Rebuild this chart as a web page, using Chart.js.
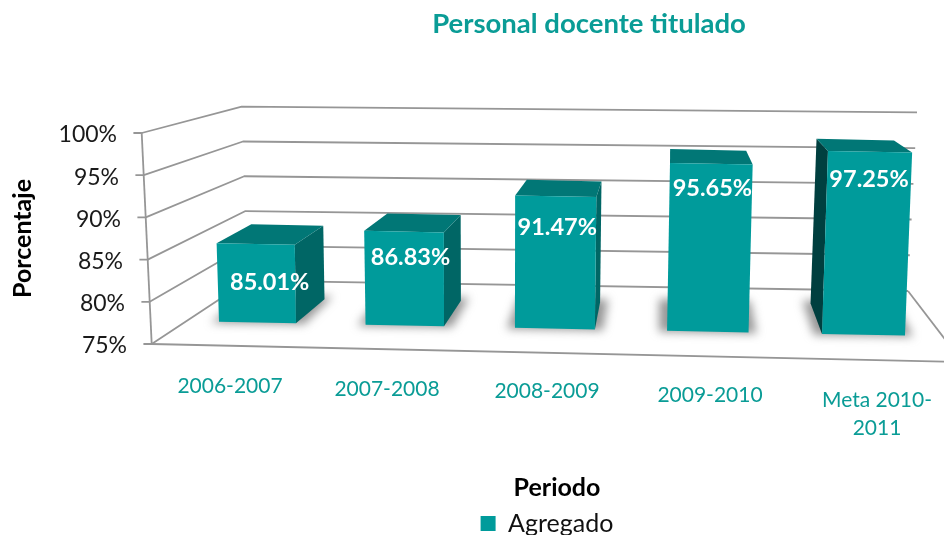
<!DOCTYPE html>
<html>
<head>
<meta charset="utf-8">
<style>html,body{margin:0;padding:0;background:#fff}canvas{display:block}</style>
<script src="https://cdn.jsdelivr.net/npm/chart.js@4/dist/chart.umd.js"></script>
</head>
<body>
<canvas id="c" width="944" height="535"></canvas>
<script>
const categories = ['2006-2007', '2007-2008', '2008-2009', '2009-2010', ['Meta 2010-', '2011']];
const seriesName = 'Agregado';
const seriesValues = [85.01, 86.83, 91.47, 95.65, 97.25];
const chartTitle = 'Personal docente titulado';
const yTitle = 'Porcentaje';
const xTitle = 'Periodo';
const teal = '#009B9B';

// Perspective of the 3D box: turns library geometry into the projected picture.
const FONT = 'Lato';
function poly(ctx, pts, fill) {
  ctx.beginPath();
  pts.forEach((p, i) => i ? ctx.lineTo(p[0], p[1]) : ctx.moveTo(p[0], p[1]));
  ctx.closePath();
  ctx.fillStyle = fill;
  ctx.fill();
}
function project(el) {
  const t = (el.x - 247.4) / 154.8;
  const wB = el.width * (0.975 + 0.019 * t);
  const wT = wB + 1.2;
  const cB = 257.5 + 147.3 * t + 1.4 * t * (t - 1);
  const yB = 322.5 + 3.05 * t;
  const h = (el.base - el.y) * (0.93 + 0.011 * t);
  const cT = cB + (-0.023 + 0.0147 * t) * h;
  const yT = yB - h;
  const s = 0.8;
  const fBL = [cB - wB / 2, yB - s], fBR = [cB + wB / 2, yB + s];
  const fTL = [cT - wT / 2, yT - s], fTR = [cT + wT / 2, yT + s];
  const dx = 31.6 - 11.6 * t;
  const dyT = -19 + 1.7 * t, dyB = -24 - 1.6 * t;
  const bTL = [cT + dx - wT * 0.46, yT + dyT - s], bTR = [cT + dx + wT * 0.46, yT + dyT + s];
  const bBL = [cB + dx - wB * 0.46, yB + dyB - s], bBR = [cB + dx + wB * 0.46, yB + dyB + s];
  return { fBL, fBR, fTL, fTR, bTL, bTR, bBL, bBR, cT, yT };
}
Chart.BarElement.prototype.draw = function (ctx) {
  const p = project(this);
  ctx.save();
  ctx.filter = 'blur(5px)';
  const e = 8;
  poly(ctx, [[p.fBL[0] - e, p.fBL[1] + 1], [p.fBR[0] + e, p.fBR[1] + 1], [p.bBR[0] + e, p.bBR[1] - 3], [p.bBL[0] - e, p.bBL[1] - 3]], 'rgba(110,110,110,0.72)');
  ctx.filter = 'none';
  if (p.bTR[0] > p.fTR[0]) poly(ctx, [p.fTR, p.bTR, p.bBR, p.fBR], '#006665');
  if (p.bTL[0] < p.fTL[0] - 1) poly(ctx, [p.fTL, p.bTL, p.bBL, p.fBL], '#003F3F');
  poly(ctx, [p.fTL, p.bTL, p.bTR, p.fTR], '#017776');
  poly(ctx, [p.fTL, p.fTR, p.fBR, p.fBL], this.options.backgroundColor);
  ctx.restore();
};

const perspectivePlugin = {
  id: 'perspective',
  afterLayout(chart) {
    const tb = chart.titleBlock;
    tb.left += 117; tb.right += 117;
    const lg = chart.legend;
    lg.left += 75; lg.right += 75;
    lg.top += 11; lg.bottom += 11;
  },
  beforeDraw(chart, args, opts) {
    const y = chart.scales.y, x = chart.scales.x;
    y.getLabelItems().forEach(it => {
      const f = (it.options.translation[1] - y.top) / (y.bottom - y.top);
      it.options.translation = [117 + f * 10, it.options.translation[1] + 2];
    });
    x.getLabelItems().forEach((it, i) => {
      it.options.translation = [opts.tickX[i], opts.tickY[i] - 14];
    });
  },
  beforeDatasetsDraw(chart) {
    const ctx = chart.ctx, y = chart.scales.y;
    const H = y.bottom - y.top;
    ctx.save();
    ctx.strokeStyle = '#969696';
    ctx.lineWidth = 1.8;
    ctx.lineJoin = 'round';
    const line = pts => {
      ctx.beginPath();
      pts.forEach((p, i) => i ? ctx.lineTo(p[0], p[1]) : ctx.moveTo(p[0], p[1]));
      ctx.stroke();
    };
    y.ticks.forEach(tk => {
      const py = y.getPixelForValue(tk.value);
      const f = (py - y.top) / H;
      const ax = 141.7 + f * 10;
      line([[ax - 8.3, py], [ax, py], [241.7 + f * 6.3, 106.7 + f * 173.9], [917 - f * 9, 112.3 + f * 178.7]]);
    });
    line([[141.7, y.top], [151.7, y.bottom]]);
    line([[151.7, y.bottom], [960, y.bottom + 17.9]]);
    line([[908, 291], [960, 359]]);
    ctx.restore();
  },
  afterDatasetsDraw(chart, args, opts) {
    const ctx = chart.ctx;
    const meta = chart.getDatasetMeta(0);
    ctx.save();
    ctx.fillStyle = '#fff';
    ctx.font = '700 23.5px ' + FONT;
    ctx.textAlign = 'center';
    ctx.textBaseline = 'middle';
    meta.data.forEach((el, i) => {
      const p = project(el);
      ctx.fillText(seriesValues[i].toFixed(2) + '%', p.cT + opts.labelDX[i], p.yT + opts.labelDY[i]);
    });
    ctx.restore();
  }
};

new Chart(document.getElementById('c'), {
  type: 'bar',
  data: {
    labels: categories,
    datasets: [{ label: seriesName, data: seriesValues, base: 75, clip: false, backgroundColor: teal, barPercentage: 0.51, categoryPercentage: 1 }]
  },
  plugins: [perspectivePlugin],
  options: {
    responsive: false,
    animation: false,
    layout: { padding: 0 },
    plugins: {
      perspective: {
        tickX: [230, 387, 547, 710, 877],
        tickY: [386, 389, 391, 395, 400],
        labelDX: [14, 6.5, 1.5, 1, -1],
        labelDY: [38, 25.5, 31.5, 25, 28]
      },
      title: {
        display: true, text: chartTitle, color: '#0A9C96',
        font: { family: FONT, size: 27.5, weight: '700' },
        padding: { top: 8, bottom: 92 }
      },
      legend: {
        display: true, position: 'bottom',
        labels: { color: '#111', boxWidth: 15, boxHeight: 15, padding: 2, font: { family: FONT, size: 25 } }
      },
      tooltip: { enabled: false }
    },
    scales: {
      x: {
        grid: { display: false }, border: { display: false },
        ticks: { color: '#0A9C96', autoSkip: false, maxRotation: 0, minRotation: 0, font: { family: FONT, size: 21, lineHeight: 1.34 } },
        title: { display: true, text: xTitle, color: '#000', font: { family: FONT, size: 25, weight: '700' }, padding: { top: 0, bottom: -5 } },
        afterFit(s) { s.height = 154; }
      },
      y: {
        min: 75, max: 100,
        grid: { display: false }, border: { display: false },
        ticks: { stepSize: 5, color: '#1A1A1A', font: { family: FONT, size: 23 }, callback: v => v + '%' },
        title: { display: true, text: yTitle, color: '#000', font: { family: FONT, size: 25, weight: '700' }, padding: { top: 8, bottom: 0 } },
        afterFit(s) { s.width = 170; }
      }
    }
  }
});
</script>
</body>
</html>
